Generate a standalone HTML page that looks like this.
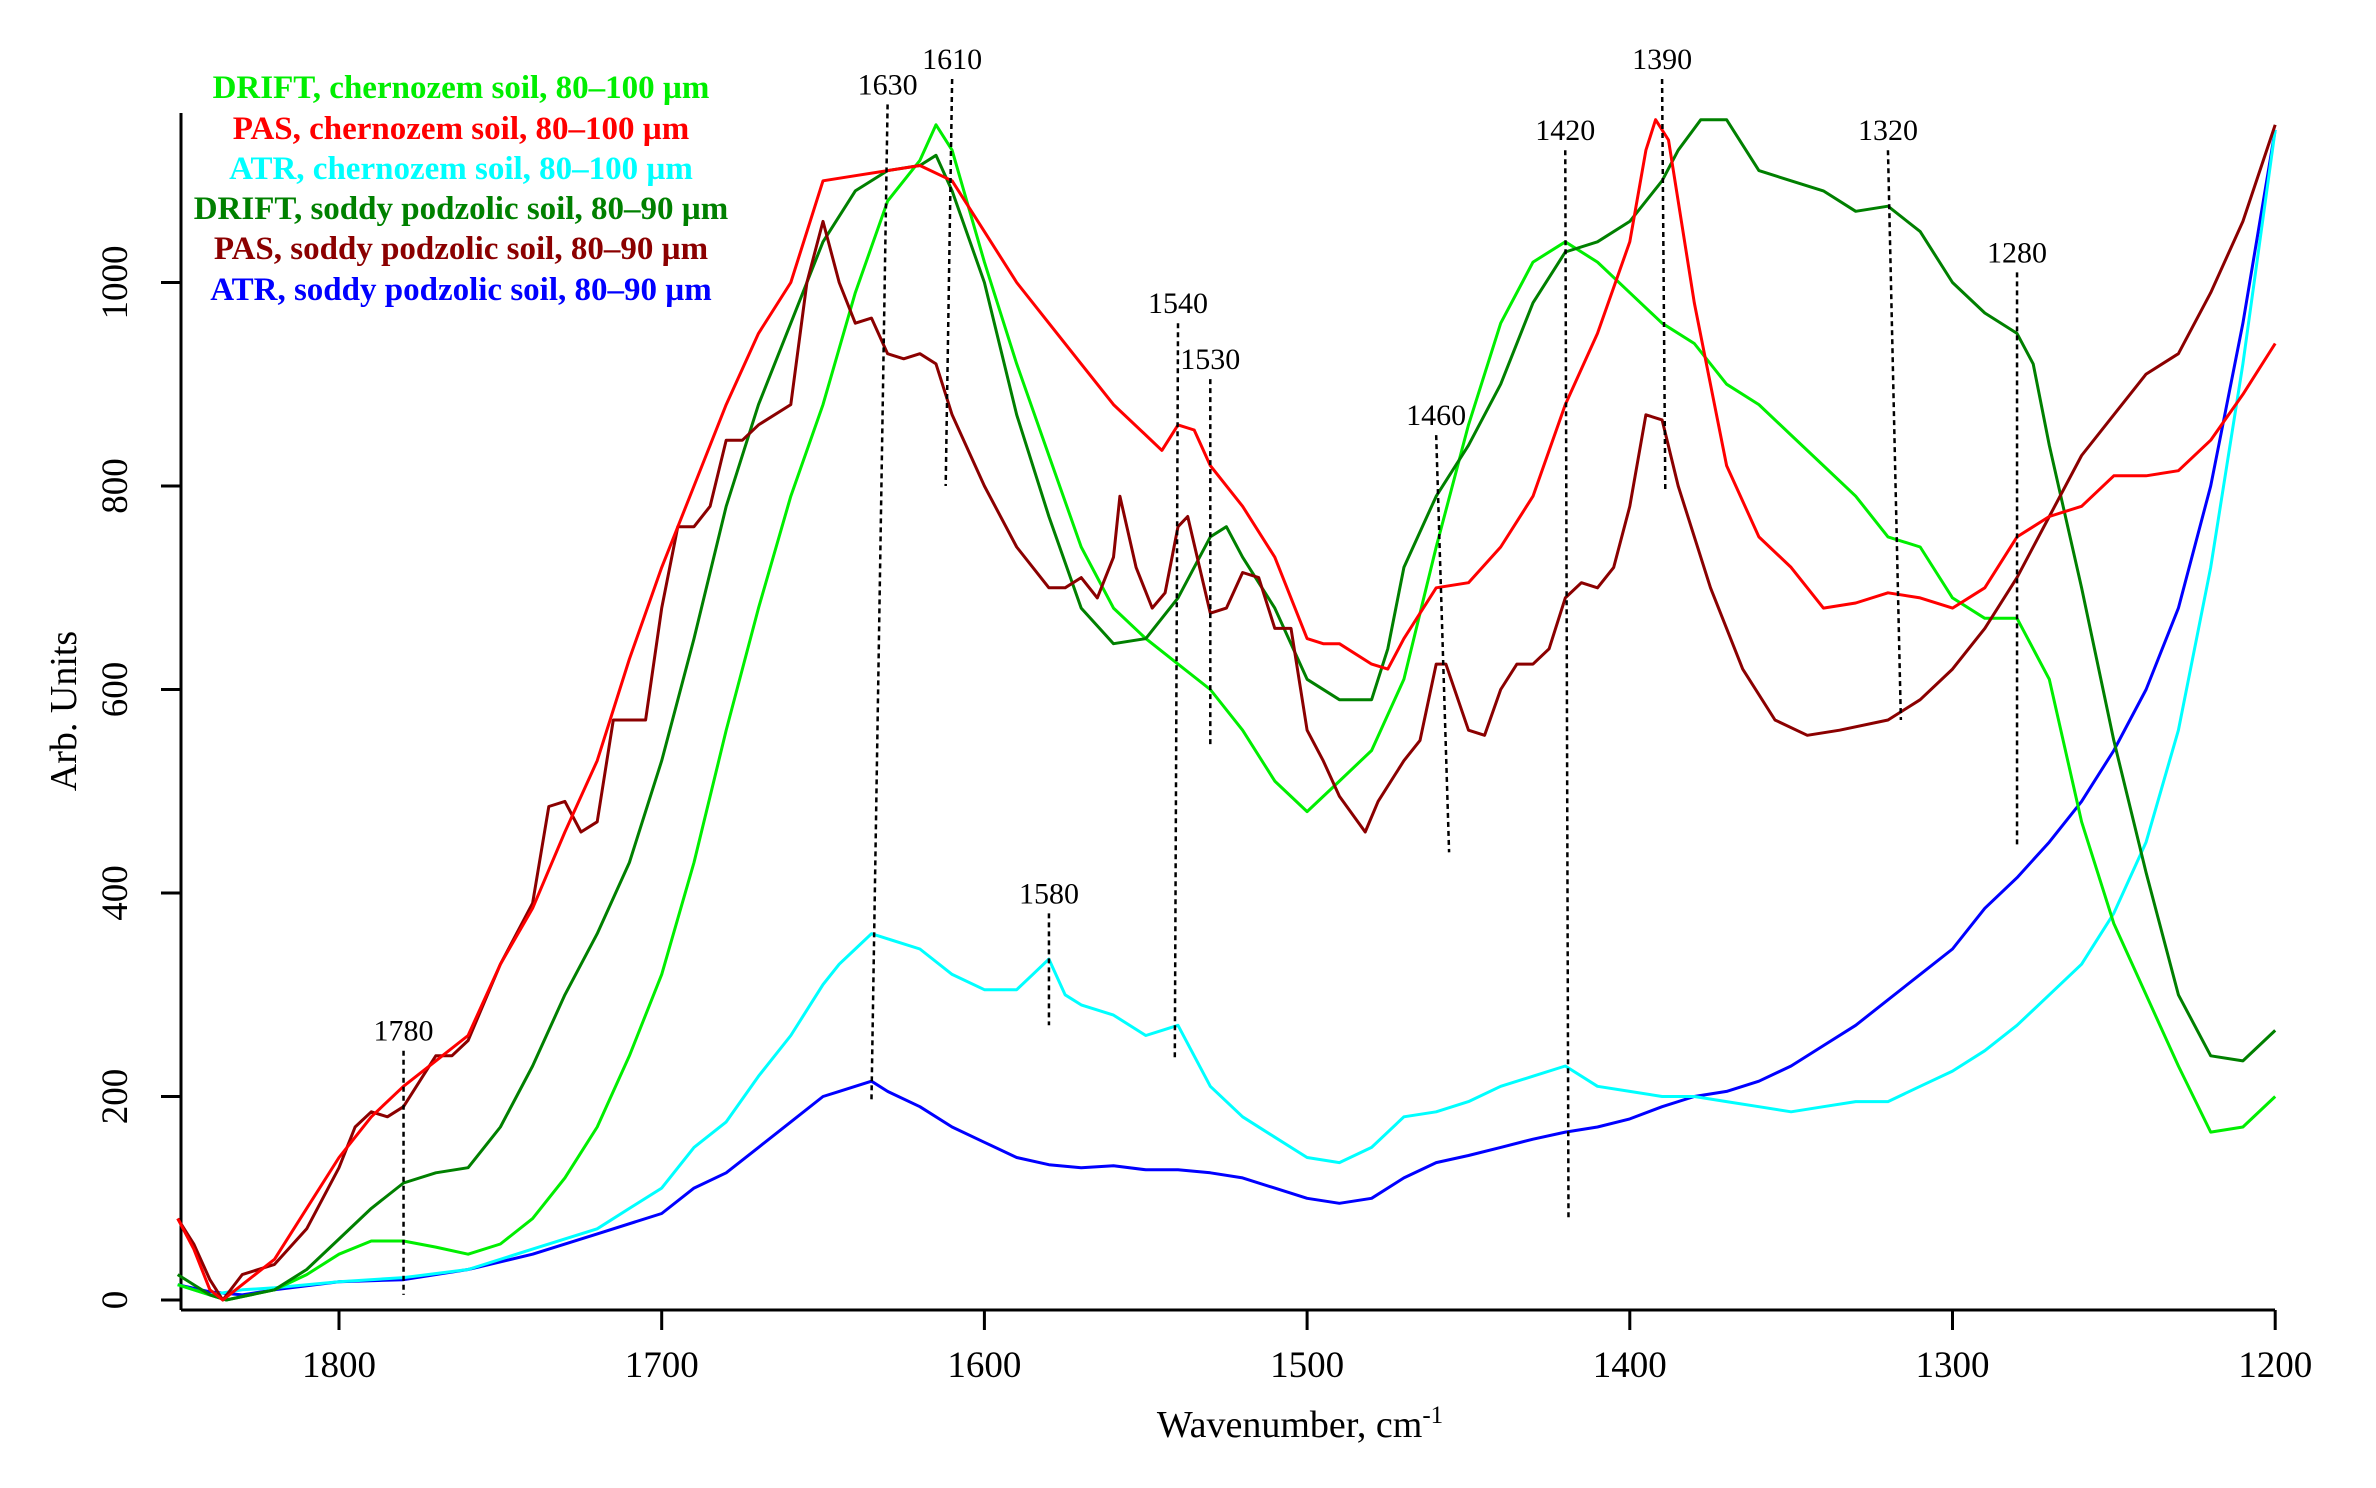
<!DOCTYPE html>
<html><head><meta charset="utf-8"><style>
html,body{margin:0;padding:0;background:#fff;}
svg{display:block;font-family:"Liberation Serif",serif;}
</style></head><body>
<svg id="chart" width="2376" height="1488" viewBox="0 0 2376 1488" xmlns="http://www.w3.org/2000/svg">
<g id="axes"></g>
<g id="series"></g>
<g id="annots"></g>
<g id="legend" font-weight="bold" font-size="33" text-anchor="middle">
<text x="461" y="98" fill="#00ee00">DRIFT, chernozem soil, 80–100 µm</text>
<text x="461" y="139" fill="#ff0000">PAS, chernozem soil, 80–100 µm</text>
<text x="461" y="179" fill="#00ffff">ATR, chernozem soil, 80–100 µm</text>
<text x="461" y="219" fill="#008000">DRIFT, soddy podzolic soil, 80–90 µm</text>
<text x="461" y="259" fill="#8b0000">PAS, soddy podzolic soil, 80–90 µm</text>
<text x="461" y="300" fill="#0000ff">ATR, soddy podzolic soil, 80–90 µm</text>
</g>
</svg>
<script>
const xTicks=[1800,1700,1600,1500,1400,1300,1200];
const yTicks=[0,200,400,600,800,1000];
const peakLabels=[1780,1630,1610,1580,1540,1530,1460,1420,1390,1320,1280];
const peakTop=[245,1175,1200,380,960,905,850,1130,1200,1130,1010];
const peakBot=[5,195,800,270,235,545,440,80,795,570,445];
const peakBotWn=[1780,1635,1612,1580,1541,1530,1456,1419,1389,1316,1280];

const wnDriftChern=[1850,1840,1835,1820,1810,1800,1790,1780,1770,1760,1750,1740,1730,1720,1710,1700,1690,1680,1670,1660,1650,1640,1630,1620,1615,1610,1600,1590,1580,1570,1560,1550,1540,1530,1520,1510,1500,1490,1480,1470,1460,1450,1440,1430,1420,1410,1400,1390,1380,1370,1360,1350,1340,1330,1320,1310,1300,1290,1280,1270,1260,1250,1240,1230,1220,1210,1200];
const valDriftChern=[15,5,0,10,25,45,58,58,52,45,55,80,120,170,240,320,430,560,680,790,880,990,1080,1120,1155,1130,1020,920,830,740,680,650,625,600,560,510,480,510,540,610,740,860,960,1020,1040,1020,990,960,940,900,880,850,820,790,750,740,690,670,670,610,470,370,300,230,165,170,200];

const wnPasChern=[1850,1845,1840,1836,1830,1820,1810,1800,1790,1780,1770,1760,1750,1740,1730,1720,1710,1700,1690,1680,1670,1660,1650,1640,1630,1620,1610,1600,1590,1580,1570,1560,1550,1545,1540,1535,1530,1520,1510,1500,1495,1490,1480,1475,1470,1460,1450,1440,1430,1420,1410,1400,1395,1392,1388,1380,1370,1360,1350,1340,1330,1320,1310,1300,1290,1280,1270,1260,1250,1240,1230,1220,1210,1200];
const valPasChern=[80,50,10,0,15,40,90,140,180,210,235,260,330,385,460,530,630,720,800,880,950,1000,1100,1105,1110,1115,1100,1050,1000,960,920,880,850,835,860,855,820,780,730,650,645,645,625,620,650,700,705,740,790,880,950,1040,1130,1160,1140,980,820,750,720,680,685,695,690,680,700,750,770,780,810,810,815,845,890,940];

const wnAtrChern=[1850,1840,1830,1820,1800,1780,1760,1740,1720,1710,1700,1690,1680,1670,1660,1650,1645,1640,1635,1630,1620,1610,1600,1590,1585,1580,1575,1570,1560,1550,1545,1540,1530,1520,1510,1500,1490,1480,1470,1460,1450,1440,1430,1420,1410,1400,1390,1380,1370,1360,1350,1340,1330,1320,1310,1300,1290,1280,1270,1260,1250,1240,1230,1220,1210,1200];
const valAtrChern=[15,5,10,12,18,22,30,50,70,90,110,150,175,220,260,310,330,345,360,355,345,320,305,305,320,335,300,290,280,260,265,270,210,180,160,140,135,150,180,185,195,210,220,230,210,205,200,200,195,190,185,190,195,195,210,225,245,270,300,330,380,450,560,720,920,1150];

const wnDriftSod=[1850,1840,1835,1820,1810,1800,1790,1780,1770,1760,1750,1740,1730,1720,1710,1700,1690,1680,1670,1660,1650,1640,1630,1620,1615,1610,1600,1590,1580,1570,1560,1550,1540,1530,1525,1520,1510,1500,1490,1480,1475,1470,1460,1450,1440,1430,1420,1410,1400,1390,1385,1378,1370,1360,1350,1340,1330,1320,1310,1300,1290,1280,1275,1270,1260,1250,1240,1230,1220,1210,1200];
const valDriftSod=[25,5,0,10,30,60,90,115,125,130,170,230,300,360,430,530,650,780,880,960,1040,1090,1110,1115,1125,1090,1000,870,770,680,645,650,690,750,760,730,680,610,590,590,640,720,790,840,900,980,1030,1040,1060,1100,1130,1160,1160,1110,1100,1090,1070,1075,1050,1000,970,950,920,840,700,550,420,300,240,235,265];

const wnPasSod=[1850,1845,1840,1836,1830,1820,1810,1800,1795,1790,1785,1780,1770,1765,1760,1750,1740,1735,1730,1725,1720,1715,1710,1705,1700,1695,1690,1685,1680,1675,1670,1660,1655,1650,1645,1640,1635,1630,1625,1620,1615,1610,1600,1590,1580,1575,1570,1565,1560,1558,1553,1548,1544,1540,1537,1530,1525,1520,1515,1510,1505,1500,1495,1490,1482,1478,1470,1465,1460,1457,1450,1445,1440,1435,1430,1425,1420,1415,1410,1405,1400,1395,1390,1385,1375,1365,1355,1345,1335,1320,1310,1300,1290,1280,1270,1260,1250,1240,1230,1220,1210,1200];
const valPasSod=[80,55,20,0,25,35,70,130,170,185,180,190,240,240,255,330,390,485,490,460,470,570,570,570,680,760,760,780,845,845,860,880,1000,1060,1000,960,965,930,925,930,920,870,800,740,700,700,710,690,730,790,720,680,695,760,770,675,680,715,710,660,660,560,530,495,460,490,530,550,625,625,560,555,600,625,625,640,690,705,700,720,780,870,865,800,700,620,570,555,560,570,590,620,660,710,770,830,870,910,930,990,1060,1155];

const wnAtrSod=[1850,1840,1830,1820,1800,1780,1760,1740,1720,1700,1690,1680,1670,1660,1650,1645,1640,1635,1630,1620,1610,1600,1590,1580,1570,1560,1550,1540,1530,1520,1510,1500,1490,1480,1470,1460,1450,1440,1430,1420,1410,1400,1390,1380,1370,1360,1350,1340,1330,1320,1310,1300,1290,1280,1270,1260,1250,1240,1230,1220,1210,1200];
const valAtrSod=[15,8,5,10,18,20,30,45,65,85,110,125,150,175,200,205,210,215,205,190,170,155,140,133,130,132,128,128,125,120,110,100,95,100,120,135,142,150,158,165,170,178,190,200,205,215,230,250,270,295,320,345,385,415,450,490,540,600,680,800,960,1150];

const NS='http://www.w3.org/2000/svg';
const X0=181,X1=2275,Y0=1300,YT=113,AXY=1310;
function sx(wn){return 339+(1800-wn)*3.227;}
function sy(v){return Y0-v*1.0175;}
function mk(tag,attrs,parent){const e=document.createElementNS(NS,tag);for(const k in attrs)e.setAttribute(k,attrs[k]);parent.appendChild(e);return e;}
const axes=document.getElementById('axes');
let l=mk('line',{x1:X0,y1:YT,x2:X0,y2:AXY,stroke:'#000','stroke-width':3},axes);


l=mk('line',{x1:X0,y1:AXY,x2:X1,y2:AXY,stroke:'#000','stroke-width':3},axes);


xTicks.forEach(t=>{
  const x=sx(t);
  const tk=mk('line',{x1:x,y1:AXY,x2:x,y2:AXY+20,stroke:'#000','stroke-width':3},axes);
  
  
  const tx=mk('text',{x:x,y:AXY+67,'font-size':37,'text-anchor':'middle'},axes);
  tx.textContent=t;
  
  
});
yTicks.forEach(t=>{
  const y=sy(t);
  const tk=mk('line',{x1:X0-20,y1:y,x2:X0,y2:y,stroke:'#000','stroke-width':3},axes);
  
  
  const tx=mk('text',{x:0,y:0,'font-size':37,'text-anchor':'middle',transform:`translate(127,${y}) rotate(-90)`},axes);
  tx.textContent=t;
  
  
});
let at=mk('text',{x:0,y:0,'font-size':38,'text-anchor':'middle',transform:'translate(76,711) rotate(-90)'},axes);
at.textContent='Arb. Units';


at=mk('text',{x:1300,y:1437,'font-size':38,'text-anchor':'middle'},axes);
at.innerHTML='Wavenumber, cm<tspan font-size="25" dy="-14">-1</tspan>';



const series=document.getElementById('series');
function draw(wns,vals,color,name){
  const d=wns.map((w,i)=>(i?'L':'M')+sx(w).toFixed(1)+','+sy(vals[i]).toFixed(1)).join(' ');
  const p=mk('path',{d:d,fill:'none',stroke:color,'stroke-width':3,'stroke-linejoin':'round'},series);
  
  
}
draw(wnAtrSod,valAtrSod,'#0000ff','line-atr-soddy');
draw(wnAtrChern,valAtrChern,'#00ffff','line-atr-chernozem');
draw(wnDriftChern,valDriftChern,'#00ee00','line-drift-chernozem');
draw(wnDriftSod,valDriftSod,'#008000','line-drift-soddy');
draw(wnPasSod,valPasSod,'#8b0000','line-pas-soddy');
draw(wnPasChern,valPasChern,'#ff0000','line-pas-chernozem');

const ann=document.getElementById('annots');
peakLabels.forEach((p,i)=>{
  const xt=sx(p),xb=sx(peakBotWn[i]);
  const ln=mk('line',{x1:xt,y1:sy(peakTop[i]),x2:xb,y2:sy(peakBot[i]),stroke:'#000','stroke-width':2.5,'stroke-dasharray':'5,4'},ann);
  
  
  const tx=mk('text',{x:xt,y:sy(peakTop[i])-10,'font-size':30,'text-anchor':'middle'},ann);
  tx.textContent=p;
  
  
});
</script>
</body></html>
